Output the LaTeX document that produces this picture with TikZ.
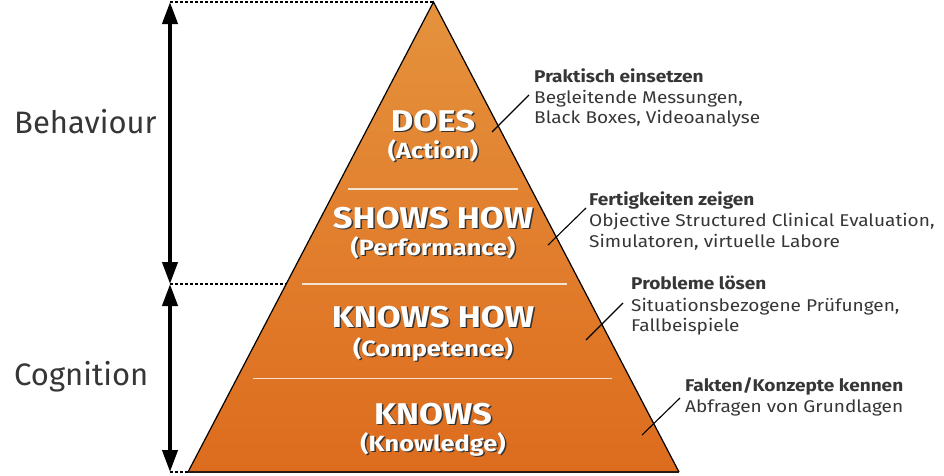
\documentclass[tikz,border=0pt]{standalone}
\usepackage{fontspec}
\setmainfont{Fira Sans}
\newfontfamily\widefont[FakeStretch=1.155]{Fira Sans}
\newfontfamily\notefont[FakeStretch=1.12]{Fira Sans}
\usetikzlibrary{arrows.meta}
\definecolor{txt}{HTML}{363636}
\definecolor{otop}{HTML}{E5923D}
\definecolor{obot}{HTML}{DD6C1E}
\definecolor{divc}{HTML}{F3E2CE}
\definecolor{edge}{HTML}{2A1A10}
\newcommand\pyrtext[5]{%
  \node[#4,text=black!80] (#1s) at (#2+1.5,#3+1.5) {#5};
  \node[#4,text=white] (#1) at (#2,#3) {#5};}
\begin{document}
\begin{tikzpicture}[x=1pt,y=-1pt,
  ttl/.style={font=\widefont\bfseries\fontsize{30}{30}\selectfont, inner sep=0pt, anchor=base},
  sub/.style={font=\widefont\bfseries\fontsize{22}{22}\selectfont, inner sep=0pt, anchor=base},
  side/.style={font=\fontsize{31}{31}\selectfont, text=txt, inner sep=0pt, anchor=base west},
  anh/.style={font=\notefont\bfseries\fontsize{17}{17}\selectfont, text=txt, inner sep=0pt, anchor=base west},
  anb/.style={font=\notefont\fontsize{17}{17}\selectfont, text=txt, inner sep=0pt, anchor=base west},
  divider/.style={draw=divc, line width=1.8pt},
  guide/.style={draw=black, line width=1.6pt, dash pattern=on 3pt off 2pt},
  span/.style={draw=black, line width=4pt, {Triangle[length=22pt,width=15pt]}-{Triangle[length=22pt,width=15pt]}},
  leader/.style={draw=black, line width=1.1pt}]
\useasboundingbox (0,0) rectangle (944,475);

% pyramid
\coordinate (apex) at (433.5,2);
\coordinate (bl) at (188,472);
\coordinate (br) at (679,472);
\shade[top color=otop, bottom color=obot, shading angle=0] (apex)--(br)--(bl)--cycle;
\draw[line width=1.2pt, line join=miter] (bl)--(apex)--(br);
\draw[line width=2.2pt, edge] (bl)--(br);

% dividers
\draw[divider] (348,189)--(518,189);
\draw[divider] (302,284)--(567,284);
\draw[divider] (253,378.5)--(612,378.5);

% guides and spans
\coordinate (at) at (170,2);
\coordinate (am) at (170,284);
\coordinate (ab) at (170,472);
\coordinate (em) at (286,284);
\draw[guide] (at)--(apex);
\draw[guide] (am)--(em);
\draw[guide] (ab)--(bl);
\draw[span] (at)--(am);
\draw[span] (am)--(ab);

\node[side] (beh) at (14,133) {Behaviour};
\node[side] (cog) at (14,385) {Cognition};

% pyramid texts
\pyrtext{does}{433}{131}{ttl}{DOES}
\pyrtext{action}{433}{158}{sub}{(Action)}
\pyrtext{shows}{433}{228}{ttl}{SHOWS HOW}
\pyrtext{perf}{433}{255}{sub}{(Performance)}
\pyrtext{knowsh}{433}{327}{ttl}{KNOWS HOW}
\pyrtext{comp}{433}{356}{sub}{(Competence)}
\pyrtext{knows}{433}{424}{ttl}{KNOWS}
\pyrtext{know}{433}{451}{sub}{(Knowledge)}

% annotations
\node[anh] (a1) at (534,82) {Praktisch einsetzen};
\node[anb] (a1b) at (534,103) {Begleitende Messungen,};
\node[anb] (a1c) at (534,123.5) {Black Boxes, Videoanalyse};
\node[anh] (a2) at (589,205.5) {Fertigkeiten zeigen};
\node[anb] (a2b) at (589,226.5) {Objective Structured Clinical Evaluation,};
\node[anb] (a2c) at (589,247) {Simulatoren, virtuelle Labore};
\node[anh] (a3) at (631,289.5) {Probleme lösen};
\node[anb] (a3b) at (631,311) {Situationsbezogene Prüfungen,};
\node[anb] (a3c) at (631,331.5) {Fallbeispiele};
\node[anh] (a4) at (685,391.5) {Fakten/Konzepte kennen};
\node[anb] (a4b) at (685,412.5) {Abfragen von Grundlagen};

% leaders
\coordinate (l1i) at (492,132); \coordinate (l1o) at (529,95);
\coordinate (l2i) at (548,245); \coordinate (l2o) at (586,208);
\coordinate (l3i) at (586,340); \coordinate (l3o) at (623,303);
\coordinate (l4i) at (642,435); \coordinate (l4o) at (680,398);
\draw[leader] (l1i)--(l1o);
\draw[leader] (l2i)--(l2o);
\draw[leader] (l3i)--(l3o);
\draw[leader] (l4i)--(l4o);
\end{tikzpicture}
\end{document}
